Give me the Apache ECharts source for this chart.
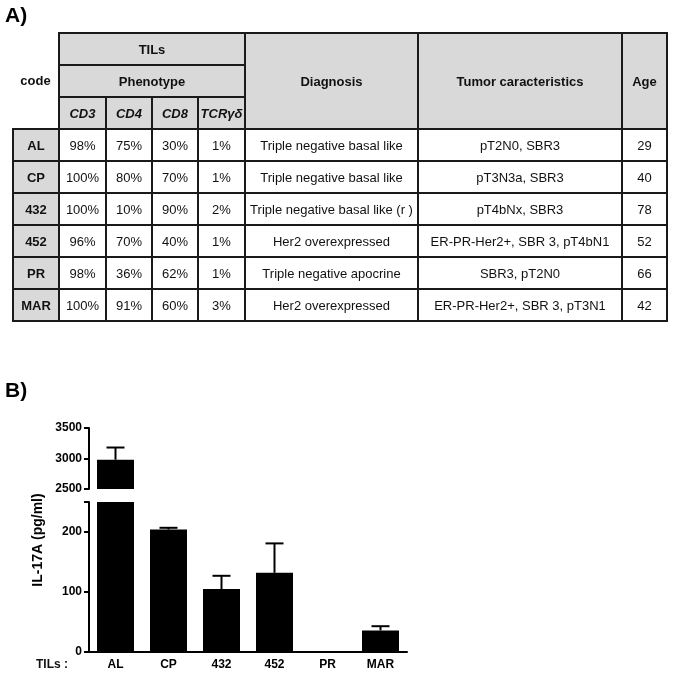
<!DOCTYPE html>
<html>
<head>
<meta charset="utf-8">
<script src="https://cdn.jsdelivr.net/npm/echarts@6/dist/echarts.min.js"></script>
<style>
  html, body { margin:0; padding:0; background:#fff; }
  #chart { position:absolute; left:0; top:0; width:673px; height:677px; }
  #tbl { position:absolute; left:12px; top:32px; border-collapse:collapse; table-layout:fixed;
         font-family:"Liberation Sans", Arial, sans-serif; font-size:13px; color:#111; z-index:2; }
  #tbl td { border:2px solid #1a1a1a; text-align:center; vertical-align:middle; padding:0; height:30px; white-space:nowrap; }
  #tbl td.h { background:#d9d9d9; font-weight:bold; }
  #tbl td.hi { background:#d9d9d9; font-weight:bold; font-style:italic; }
  #tbl td.code { background:#d9d9d9; font-weight:bold; }
  #tbl td.blank { border:none; font-weight:bold; background:#fff; }
</style>
</head>
<body>
<div id="chart"></div>
<table id="tbl"></table>
<script>
// ---------- data ----------
const codes = ['AL', 'CP', '432', '452', 'PR', 'MAR'];
const cd3 = ['98%', '100%', '100%', '96%', '98%', '100%'];
const cd4 = ['75%', '80%', '10%', '70%', '36%', '91%'];
const cd8 = ['30%', '70%', '90%', '40%', '62%', '60%'];
const tcrgd = ['1%', '1%', '2%', '1%', '1%', '3%'];
const diagnosis = ['Triple negative basal like', 'Triple negative basal like', 'Triple negative basal like (r )',
  'Her2 overexpressed', 'Triple negative apocrine', 'Her2 overexpressed'];
const tumor = ['pT2N0, SBR3', 'pT3N3a, SBR3', 'pT4bNx, SBR3', 'ER-PR-Her2+, SBR 3, pT4bN1', 'SBR3, pT2N0',
  'ER-PR-Her2+, SBR 3, pT3N1'];
const age = [29, 40, 78, 52, 66, 42];
const phenoHeaders = ['CD3', 'CD4', 'CD8', 'TCRγδ'];
const il17a = [2980, 204, 105, 132, 0, 36];
const il17aErr = [200, 3, 22, 49, 0, 7];
const upperTicks = [2500, 3000, 3500];
const lowerLabels = [0, 100, 200];

// ---------- table ----------
const colW = [46, 47, 46, 46, 47, 173, 204, 45];
const tbl = document.getElementById('tbl');
let html = '<colgroup>' + colW.map(w => '<col style="width:' + w + 'px">').join('') + '</colgroup>';
html += '<tr><td class="blank" rowspan="3">code</td><td class="h" colspan="4">TILs</td>' +
        '<td class="h" rowspan="3">Diagnosis</td><td class="h" rowspan="3">Tumor caracteristics</td><td class="h" rowspan="3">Age</td></tr>';
html += '<tr><td class="h" colspan="4">Phenotype</td></tr>';
html += '<tr>' + phenoHeaders.map(h => '<td class="hi">' + h + '</td>').join('') + '</tr>';
codes.forEach((c, i) => {
  html += '<tr><td class="code">' + c + '</td><td>' + cd3[i] + '</td><td>' + cd4[i] + '</td><td>' + cd8[i] +
          '</td><td>' + tcrgd[i] + '</td><td>' + diagnosis[i] + '</td><td>' + tumor[i] + '</td><td>' + age[i] + '</td></tr>';
});
tbl.innerHTML = html;

// ---------- chart ----------
const chart = echarts.init(document.getElementById('chart'), null, { renderer: 'canvas' });
const FONT = '"Liberation Sans", Arial, sans-serif';
const errData = codes.map((c, i) => [i, il17a[i], il17aErr[i]]);

function renderErr(params, api) {
  const e = api.value(2);
  if (!e) return null;
  const base = api.coord([api.value(0), api.value(1)]);
  const top = api.coord([api.value(0), api.value(1) + e]);
  const half = 9;
  const st = { stroke: '#000', lineWidth: 2 };
  return {
    type: 'group',
    children: [
      { type: 'line', shape: { x1: base[0], y1: base[1], x2: top[0], y2: top[1] }, style: st },
      { type: 'line', shape: { x1: top[0] - half, y1: top[1], x2: top[0] + half, y2: top[1] }, style: st }
    ]
  };
}

const axisLbl = { color: '#000', fontWeight: 'bold', fontSize: 12, fontFamily: FONT, margin: 7,
                  formatter: v => String(v) };
const axisLn = { show: true, lineStyle: { color: '#000', width: 2 } };
const axisTk = { show: true, length: 5, lineStyle: { color: '#000', width: 2 } };

chart.setOption({
  animation: false,
  title: [
    { text: 'A)', left: 5, top: 6, padding: 0, textStyle: { fontSize: 21, fontWeight: 'bold', fontFamily: FONT, color: '#000' } },
    { text: 'B)', left: 5, top: 381, padding: 0, textStyle: { fontSize: 21, fontWeight: 'bold', fontFamily: FONT, color: '#000' } }
  ],
  grid: [
    { left: 89, right: 266, top: 428, height: 61 },
    { left: 89, right: 266, top: 502, bottom: 25 }
  ],
  xAxis: [
    { gridIndex: 0, type: 'category', data: codes, show: false },
    { gridIndex: 1, type: 'category', data: codes, axisLine: axisLn, axisTick: { show: false },
      axisLabel: { color: '#000', fontWeight: 'bold', fontSize: 12, fontFamily: FONT, margin: 7 } }
  ],
  yAxis: [
    { gridIndex: 0, type: 'value', min: upperTicks[0], max: upperTicks[upperTicks.length - 1], interval: 500,
      axisLine: axisLn, axisTick: axisTk, splitLine: { show: false }, axisLabel: axisLbl },
    { gridIndex: 1, type: 'value', min: 0, max: 250, interval: 50,
      axisLine: axisLn,
      axisTick: Object.assign({}, axisTk, { customValues: lowerLabels.concat([250]) }),
      splitLine: { show: false },
      axisLabel: Object.assign({}, axisLbl, { customValues: lowerLabels }) }
  ],
  graphic: [
    { type: 'text', x: 38, y: 540, rotation: Math.PI / 2,
      style: { text: 'IL-17A (pg/ml)', font: 'bold 14px ' + FONT, fill: '#000', align: 'center', verticalAlign: 'middle' } },
    { type: 'text', x: 52, y: 665,
      style: { text: 'TILs :', font: 'bold 12px ' + FONT, fill: '#111', align: 'center', verticalAlign: 'middle' } }
  ],
  series: [
    { type: 'bar', xAxisIndex: 0, yAxisIndex: 0, data: il17a, barWidth: 37, clip: true,
      itemStyle: { color: '#000' }, silent: true },
    { type: 'bar', xAxisIndex: 1, yAxisIndex: 1, data: il17a, barWidth: 37, clip: true,
      itemStyle: { color: '#000' }, silent: true },
    { type: 'custom', xAxisIndex: 0, yAxisIndex: 0, data: errData, clip: true, renderItem: renderErr, silent: true },
    { type: 'custom', xAxisIndex: 1, yAxisIndex: 1, data: errData, clip: true, renderItem: renderErr, silent: true }
  ]
});
</script>
</body>
</html>
